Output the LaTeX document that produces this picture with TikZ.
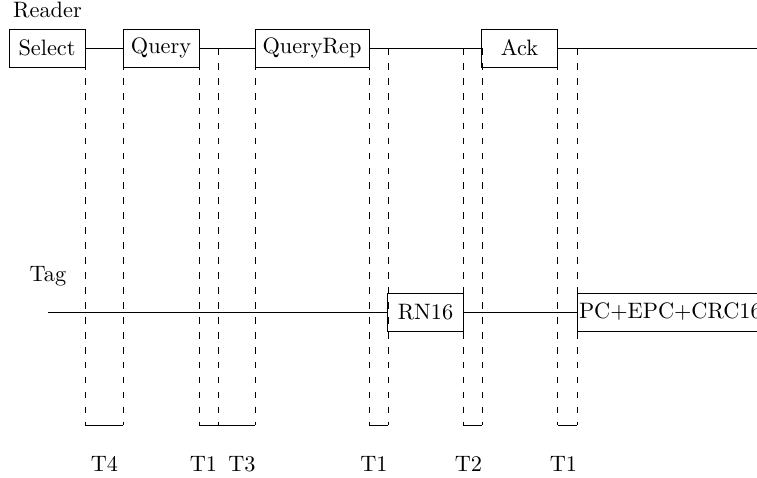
\documentclass[tikz,border=0pt]{standalone}
\begin{document}
\begin{tikzpicture}[x=0.4484pt,y=-0.4484pt,
  frame/.style={draw,minimum width=34.08pt,minimum height=17.04pt,inner sep=0pt},
  guide/.style={dash pattern=on 3pt off 3.7pt},
  lbl/.style={anchor=base,inner sep=0pt}]
\useasboundingbox (0,0) rectangle (757,478);
\clip (0,0) rectangle (757,478);

% lane captions
\node[lbl] (reader) at (47.5,17.3) {Reader};
\node[lbl] (tag) at (48,282) {Tag};

% reader commands
\node[frame] (select) at (47,48) {Select};
\node[frame] (query) at (161,48) {Query};
\node[frame,minimum width=51.1pt] (qrep) at (312,48) {QueryRep};
\node[frame] (ack) at (519.5,48) {Ack};
\coordinate (rend) at (760,48);

% tag replies
\coordinate (tstart) at (48,312);
\node[frame] (rn) at (425.5,312) {RN16};
\node[draw,anchor=west,minimum height=17.04pt,inner xsep=0.7pt,inner ysep=0pt] (epc) at (577,312) {PC+EPC+CRC16};

% timelines
\draw (select.east) -- (query.west);
\draw (query.east) -- (qrep.west);
\draw (qrep.east) -- (ack.west);
\draw (ack.east) -- (rend);
\draw (tstart) -- (rn.west);
\draw (rn.east) -- (epc.west);

% timing guides
\foreach \n/\x in {a/85,b/123,c/199,d/218,e/255,f/369,g/388,h/463,i/482,j/557.5,k/577}{
  \coordinate (top\n) at (\x,48);
  \coordinate (bot\n) at (\x,425.5);
  \draw[guide] (top\n) -- (bot\n);
}

% interval brackets
\draw (bota) -- (botb);
\draw (botc) -- (botd);
\draw (botd) -- (bote);
\draw (botf) -- (botg);
\draw (both) -- (boti);
\draw (botj) -- (botk);

% interval names
\node[lbl] (t4) at (104.5,471.5) {T4};
\node[lbl] (t1a) at (203.5,471.5) {T1};
\node[lbl] (t3) at (242,471.5) {T3};
\node[lbl] (t1b) at (374,471.5) {T1};
\node[lbl] (t2) at (468.5,471.5) {T2};
\node[lbl] (t1c) at (563.5,471.5) {T1};
\end{tikzpicture}
\end{document}
